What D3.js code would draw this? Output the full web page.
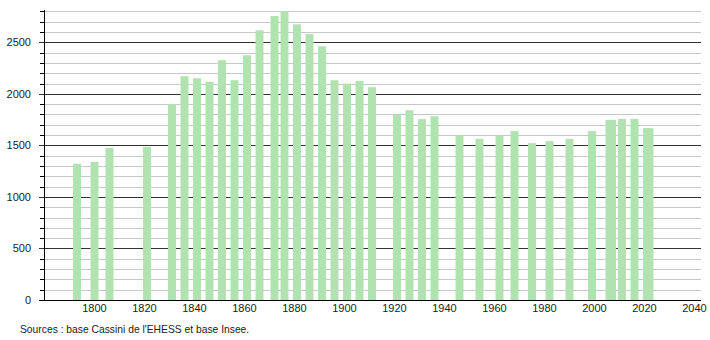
<!DOCTYPE html>
<html>
<head>
<meta charset="utf-8">
<script src="https://cdn.jsdelivr.net/npm/d3@7"></script>
<style>
  body { margin: 0; background: #fff; }
  text { font-family: "Liberation Sans", Arial, sans-serif; font-size: 11px; fill: #222; }
</style>
</head>
<body>
<svg id="chart" width="710" height="340"></svg>
<script>
"use strict";

// census years and population
var years = [1793, 1800, 1806, 1821, 1831, 1836, 1841, 1846, 1851, 1856,
             1861, 1866, 1872, 1876, 1881, 1886, 1891, 1896, 1901, 1906,
             1911, 1921, 1926, 1931, 1936, 1946, 1954, 1962, 1968, 1975,
             1982, 1990, 1999, 2006, 2007, 2011, 2016, 2021, 2022];
var population = [1321, 1340, 1476, 1486, 1899, 2171, 2151, 2116, 2326, 2132,
                  2374, 2616, 2755, 2803, 2674, 2581, 2461, 2132, 2099, 2125,
                  2064, 1799, 1841, 1754, 1783, 1596, 1563, 1596, 1638, 1521,
                  1541, 1563, 1638, 1747, 1747, 1757, 1757, 1667, 1667];
var xTicks = [1800, 1820, 1840, 1860, 1880, 1900, 1920, 1940, 1960, 1980, 2000, 2020, 2040];
var yMajor = [0, 500, 1000, 1500, 2000, 2500];
var yMinor = d3.range(100, 2900, 100).filter(function(v) { return v % 500 !== 0; });
var source = "Sources : base Cassini de l'EHESS et base Insee.";

(function() {
    var data = years.map(function(yr, i) { return {year: yr, pop: population[i]}; });

    var plotLeft = 44, plotRight = 702, plotTop = 10, plotBottom = 300;
    var barWidth = 8;

    var x = d3.scaleLinear().domain([1780, 2043]).range([plotLeft + 0.5, plotRight]);
    var y = d3.scaleLinear().domain([0, 2813]).range([plotBottom, plotTop]);

    var svg = d3.select("#chart");

    function rowY(d) { return Math.round(y(d)) + 0.5; }

    // minor grid
    svg.append("g")
        .selectAll("line")
        .data(yMinor)
        .enter().append("line")
        .attr("x1", plotLeft - 4)
        .attr("x2", 701)
        .attr("y1", rowY)
        .attr("y2", rowY)
        .attr("stroke", "#c8c8c8");

    // minor tick marks (black, left of axis)
    svg.append("g")
        .selectAll("line")
        .data(yMinor)
        .enter().append("line")
        .attr("x1", plotLeft - 4)
        .attr("x2", plotLeft)
        .attr("y1", rowY)
        .attr("y2", rowY)
        .attr("stroke", "#000");

    // major grid
    svg.append("g")
        .selectAll("line")
        .data(yMajor)
        .enter().append("line")
        .attr("x1", plotLeft - 5)
        .attr("x2", 701)
        .attr("y1", rowY)
        .attr("y2", rowY)
        .attr("stroke", "#333");

    // bars
    svg.append("g")
        .selectAll("rect")
        .data(data)
        .enter().append("rect")
        .attr("x", function(d) { return x(d.year) - barWidth / 2; })
        .attr("y", function(d) { return y(d.pop); })
        .attr("width", barWidth)
        .attr("height", function(d) { return y(0) - y(d.pop); })
        .attr("fill", "#b1e3b1");

    // axes lines
    svg.append("line")
        .attr("x1", plotLeft + 0.5).attr("x2", plotLeft + 0.5)
        .attr("y1", plotTop).attr("y2", plotBottom)
        .attr("stroke", "#000");
    svg.append("line")
        .attr("x1", plotLeft - 5).attr("x2", 701)
        .attr("y1", plotBottom + 0.5).attr("y2", plotBottom + 0.5)
        .attr("stroke", "#000");

    // y labels
    svg.append("g")
        .selectAll("text")
        .data(yMajor)
        .enter().append("text")
        .attr("x", 31)
        .attr("y", function(d) { return y(d) + 4; })
        .attr("text-anchor", "end")
        .text(function(d) { return d; });

    // x labels
    svg.append("g")
        .selectAll("text")
        .data(xTicks)
        .enter().append("text")
        .attr("x", function(d) { return x(d); })
        .attr("y", 312)
        .attr("text-anchor", "middle")
        .text(function(d) { return d; });

    svg.append("text")
        .attr("x", 20)
        .attr("y", 333)
        .style("font-size", "10.3px")
        .text(source);
})();
</script>
</body>
</html>
